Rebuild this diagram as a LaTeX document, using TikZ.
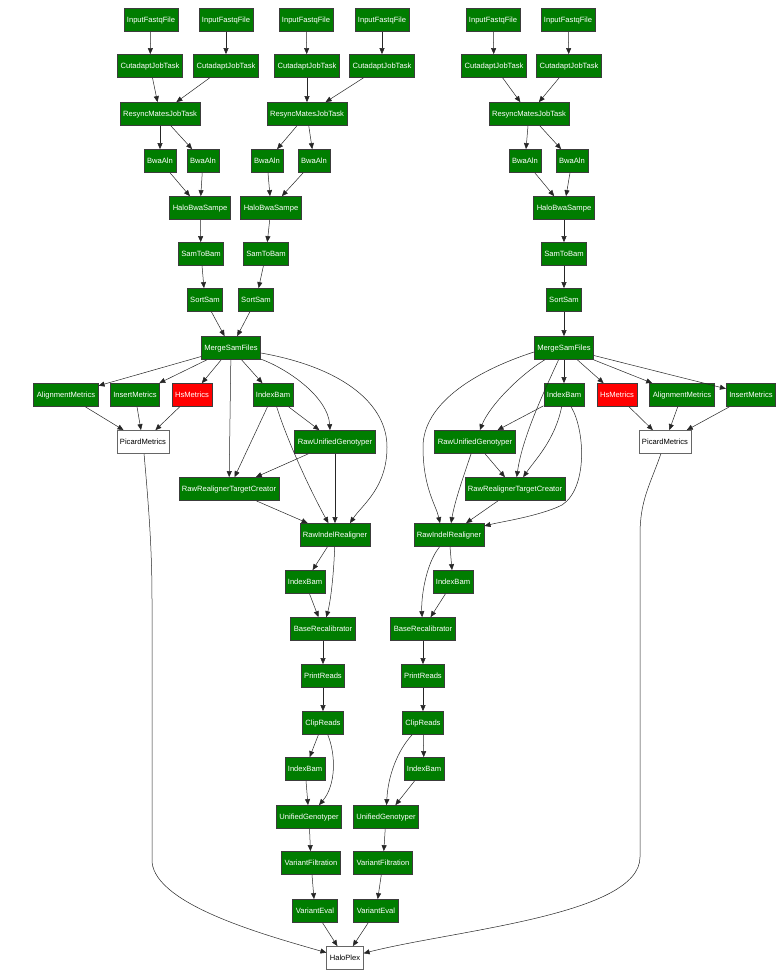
\documentclass[tikz,border=0pt]{standalone}
\usepackage{fontspec}
\setmainfont{Liberation Sans}
\usetikzlibrary{arrows.meta}
\definecolor{gnode}{RGB}{0,125,0}
\definecolor{rnode}{RGB}{255,0,0}
\definecolor{bord}{RGB}{60,60,60}
\tikzset{
  box/.style={draw=bord, line width=0.75pt, minimum height=23pt, inner xsep=3pt, inner ysep=0pt,
    font=\fontsize{7.6}{8}\selectfont, text=white, fill=gnode, text height=5.6pt, text depth=1.4pt},
  rbox/.style={box, fill=rnode},
  wbox/.style={box, fill=white, text=black, draw=black!60},
  arr/.style={-{Triangle[length=6pt,width=5pt]}, line width=0.5pt, draw=black!85}
}
\begin{document}
\begin{tikzpicture}[x=1pt,y=-1pt]
\fill[white] (0,0) rectangle (782,976);
\useasboundingbox (0,0) rectangle (782,976);
% ---------- group A ----------
\node[box] (ifA1) at (151,20) {InputFastqFile};
\node[box] (ifA2) at (226,20) {InputFastqFile};
\node[box] (caA1) at (150,66) {CutadaptJobTask};
\node[box] (caA2) at (226,66) {CutadaptJobTask};
\node[box] (rsA) at (160,114) {ResyncMatesJobTask};
\node[box] (baA1) at (160,161) {BwaAln};
\node[box] (baA2) at (203,161) {BwaAln};
\node[box] (hbA) at (200,208) {HaloBwaSampe};
\node[box] (stA) at (201,254) {SamToBam};
\node[box] (ssA) at (205,300) {SortSam};
% ---------- group B ----------
\node[box] (ifB1) at (306,20) {InputFastqFile};
\node[box] (ifB2) at (382,20) {InputFastqFile};
\node[box] (caB1) at (307,66) {CutadaptJobTask};
\node[box] (caB2) at (382,66) {CutadaptJobTask};
\node[box] (rsB) at (307,114) {ResyncMatesJobTask};
\node[box] (baB1) at (267,161) {BwaAln};
\node[box] (baB2) at (314,161) {BwaAln};
\node[box] (hbB) at (271,208) {HaloBwaSampe};
\node[box] (stB) at (266,254) {SamToBam};
\node[box] (ssB) at (256,300) {SortSam};
% ---------- left lower ----------
\node[box] (msfL) at (231,348) {MergeSamFiles};
\node[box] (amL) at (66,395) {AlignmentMetrics};
\node[box] (imL) at (135,395) {InsertMetrics};
\node[rbox] (hsL) at (192,395) {HsMetrics};
\node[box] (ibL) at (273,395) {IndexBam};
\node[wbox] (pmL) at (143,442) {PicardMetrics};
\node[box] (rugL) at (335,442) {RawUnifiedGenotyper};
\node[box] (rrtcL) at (229,489) {RawRealignerTargetCreator};
\node[box] (rindL) at (335,535) {RawIndelRealigner};
\node[box] (ib2L) at (305,582) {IndexBam};
\node[box] (brL) at (323,629) {BaseRecalibrator};
\node[box] (prL) at (323,676) {PrintReads};
\node[box] (crL) at (323,723) {ClipReads};
\node[box] (ib3L) at (305,769) {IndexBam};
\node[box] (ugL) at (309,817) {UnifiedGenotyper};
\node[box] (vfL) at (311,863) {VariantFiltration};
\node[box] (veL) at (315,911) {VariantEval};
% ---------- group C ----------
\node[box] (ifC1) at (493,20) {InputFastqFile};
\node[box] (ifC2) at (568,20) {InputFastqFile};
\node[box] (caC1) at (494,66) {CutadaptJobTask};
\node[box] (caC2) at (569,66) {CutadaptJobTask};
\node[box] (rsC) at (529,114) {ResyncMatesJobTask};
\node[box] (baC1) at (525,161) {BwaAln};
\node[box] (baC2) at (572,161) {BwaAln};
\node[box] (hbC) at (564,208) {HaloBwaSampe};
\node[box] (stC) at (564,254) {SamToBam};
\node[box] (ssC) at (564,300) {SortSam};
% ---------- right lower ----------
\node[box] (msfR) at (564,348) {MergeSamFiles};
\node[box] (ibR) at (564,395) {IndexBam};
\node[rbox] (hsR) at (617,395) {HsMetrics};
\node[box] (amR) at (682,395) {AlignmentMetrics};
\node[box] (imR) at (751,395) {InsertMetrics};
\node[box] (rugR) at (475,442) {RawUnifiedGenotyper};
\node[wbox] (pmR) at (665,442) {PicardMetrics};
\node[box] (rrtcR) at (515,489) {RawRealignerTargetCreator};
\node[box] (rindR) at (449,535) {RawIndelRealigner};
\node[box] (ib2R) at (453,582) {IndexBam};
\node[box] (brR) at (423,629) {BaseRecalibrator};
\node[box] (prR) at (423,676) {PrintReads};
\node[box] (crR) at (423,723) {ClipReads};
\node[box] (ib3R) at (424,769) {IndexBam};
\node[box] (ugR) at (386,817) {UnifiedGenotyper};
\node[box] (vfR) at (383,863) {VariantFiltration};
\node[box] (veR) at (376,911) {VariantEval};
\node[wbox] (hp) at (345,958) {HaloPlex};
% ---------- edges: upper groups ----------
\foreach \g in {A,B,C}{
  \draw[arr] (if\g1) -- (ca\g1);
  \draw[arr] (if\g2) -- (ca\g2);
  \draw[arr] (ca\g1) -- (rs\g);
  \draw[arr] (ca\g2) -- (rs\g);
  \draw[arr] (rs\g) -- (ba\g1);
  \draw[arr] (rs\g) -- (ba\g2);
  \draw[arr] (ba\g1) -- (hb\g);
  \draw[arr] (ba\g2) -- (hb\g);
  \draw[arr] (hb\g) -- (st\g);
  \draw[arr] (st\g) -- (ss\g);
}
\draw[arr] (ssA) -- (msfL);
\draw[arr] (ssB) -- (msfL);
\draw[arr] (ssC) -- (msfR);
% ---------- left lower edges ----------
\draw[arr] (msfL) -- (amL);
\draw[arr] (msfL) -- (imL);
\draw[arr] (msfL) -- (hsL);
\draw[arr] (msfL) -- (ibL);
\draw[arr] (msfL) -- (rrtcL);
\draw[arr] (msfL) .. controls (290,370) and (328,398) .. ([xshift=-5pt]rugL.north);
\draw[arr] ([yshift=-5pt]msfL.east) .. controls (345,368) and (387,405) .. (387,447)
  .. controls (387,488) and (362,505) .. ([xshift=15pt]rindL.north);
\draw[arr] (amL) -- (pmL);
\draw[arr] (imL) -- (pmL);
\draw[arr] (hsL) -- (pmL);
\draw[arr] (ibL) -- (rrtcL);
\draw[arr] (ibL) .. controls (287,440) and (310,490) .. (rindL);
\draw[arr] (ibL) -- (rugL);
\draw[arr] (rugL) -- (rrtcL);
\draw[arr] (rugL) -- (rindL);
\draw[arr] (rrtcL) -- (rindL);
\draw[arr] (rindL) -- (ib2L);
\draw[arr] (rindL) .. controls (334,570) and (331,600) .. (brL);
\draw[arr] (ib2L) -- (brL);
\draw[arr] (brL) -- (prL);
\draw[arr] (prL) -- (crL);
\draw[arr] (crL) -- (ib3L);
\draw[arr] (crL) .. controls (336,755) and (336,785) .. (ugL);
\draw[arr] (ib3L) -- (ugL);
\draw[arr] (ugL) -- (vfL);
\draw[arr] (vfL) -- (veL);
\draw[arr] (veL) -- (hp);
\draw[arr] (pmL) .. controls (149,510) and (152,550) .. (152,600) -- (152,862)
  .. controls (156,905) and (265,935) .. (hp);
% ---------- right lower edges ----------
\draw[arr] (msfR) -- (ibR);
\draw[arr] (msfR) -- (hsR);
\draw[arr] (msfR) -- (amR);
\draw[arr] (msfR) -- (imR);
\draw[arr] (msfR) .. controls (520,375) and (490,405) .. (rugR);
\draw[arr] (msfR) .. controls (540,400) and (522,440) .. (rrtcR);
\draw[arr] ([yshift=-4pt]msfR.west) .. controls (472,372) and (423,405) .. (423,447)
  .. controls (423,488) and (436,505) .. ([xshift=-9pt]rindR.north);
\draw[arr] (hsR) -- (pmR);
\draw[arr] (amR) -- (pmR);
\draw[arr] (imR) -- (pmR);
\draw[arr] (ibR) -- (rugR);
\draw[arr] (ibR) .. controls (555,440) and (535,460) .. (rrtcR);
\draw[arr] (ibR) .. controls (585,430) and (588,488) .. (562,505)
  .. controls (540,516) and (500,522) .. (rindR);
\draw[arr] (rugR) -- (rrtcR);
\draw[arr] (rugR) .. controls (464,475) and (455,500) .. (rindR);
\draw[arr] (rrtcR) -- (rindR);
\draw[arr] (rindR) -- (ib2R);
\draw[arr] (rindR) .. controls (425,565) and (421,600) .. (brR);
\draw[arr] (ib2R) -- (brR);
\draw[arr] (brR) -- (prR);
\draw[arr] (prR) -- (crR);
\draw[arr] (crR) -- (ib3R);
\draw[arr] (crR) .. controls (398,750) and (388,775) .. (ugR);
\draw[arr] (ib3R) -- (ugR);
\draw[arr] (ugR) -- (vfR);
\draw[arr] (vfR) -- (veR);
\draw[arr] (veR) -- (hp);
\draw[arr] (pmR) .. controls (650,485) and (640,500) .. (640,535) -- (640,857)
  .. controls (640,915) and (455,930) .. (hp);
\end{tikzpicture}
\end{document}
